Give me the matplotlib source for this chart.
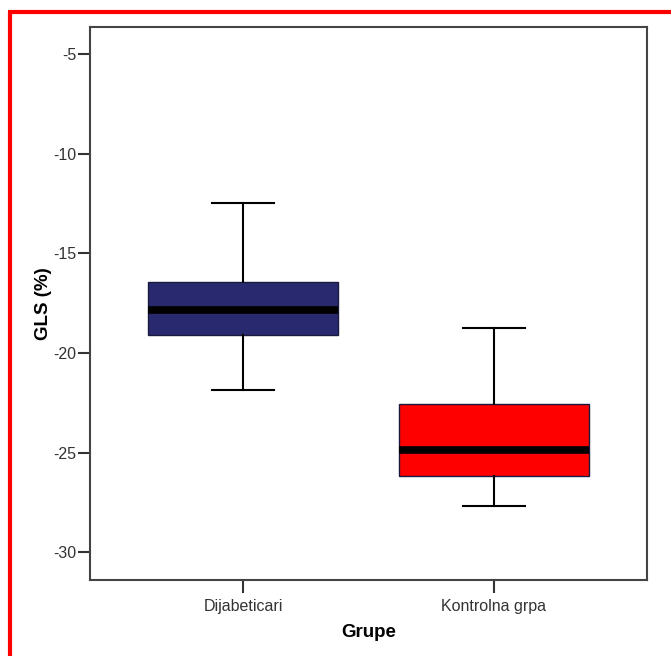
import matplotlib
matplotlib.use("Agg")
import matplotlib.pyplot as plt
from matplotlib.lines import Line2D

plt.rcParams["font.family"] = ["Liberation Sans", "DejaVu Sans"]

groups = ["Dijabeticari", "Kontrolna grpa"]
whislo = [-21.87, -27.69]
q1 = [-19.1, -26.18]
med = [-17.85, -24.88]
q3 = [-16.45, -22.57]
whishi = [-12.48, -18.75]
colors = ["#29296f", "#ff0000"]
yticks = [-30, -25, -20, -15, -10, -5]

stats = []
for i in range(len(groups)):
    stats.append(dict(label=groups[i], whislo=whislo[i], q1=q1[i], med=med[i],
                      q3=q3[i], whishi=whishi[i], fliers=[]))

fig = plt.figure(figsize=(6.71, 6.56), dpi=100)
ax = fig.add_axes([90/671, 76/656, 557/671, 553/656])

bp = ax.bxp(stats, positions=[1, 2], widths=0.757, patch_artist=True,
            showfliers=False,
            boxprops=dict(edgecolor="#1a1a40", linewidth=1.0),
            medianprops=dict(color="black", linewidth=5.5, solid_capstyle="butt"),
            whiskerprops=dict(color="black", linewidth=1.5),
            capprops=dict(color="black", linewidth=1.5),
            capwidths=0.247)
for patch, c in zip(bp["boxes"], colors):
    patch.set_facecolor(c)

ax.set_xlim(0.39, 2.61)
ax.set_ylim(-31.4, -3.64)
ax.set_yticks(yticks)
ax.set_yticklabels([str(t) for t in yticks])
ax.set_xticks([1, 2])
ax.set_xticklabels(groups)
ax.tick_params(colors="#333333", labelsize=11.5, width=1.5, length=9, pad=1)
ax.tick_params(axis="x", pad=5)
for s in ax.spines.values():
    s.set_color("#444444")
    s.set_linewidth(1.5)

ax.set_ylabel("GLS (%)", fontsize=13.5, fontweight="bold", labelpad=1)
ax.set_xlabel("Grupe", fontsize=13.5, fontweight="bold", labelpad=7)

# red frame (left and top)
fig.add_artist(Line2D([9.5/671, 9.5/671], [0, 1 - 11.5/656], color="red",
                      linewidth=3, transform=fig.transFigure, solid_capstyle="butt"))
fig.add_artist(Line2D([8/671, 1], [1 - 11.5/656, 1 - 11.5/656], color="red",
                      linewidth=3, transform=fig.transFigure, solid_capstyle="butt"))

fig.savefig("out.png", dpi=100)
